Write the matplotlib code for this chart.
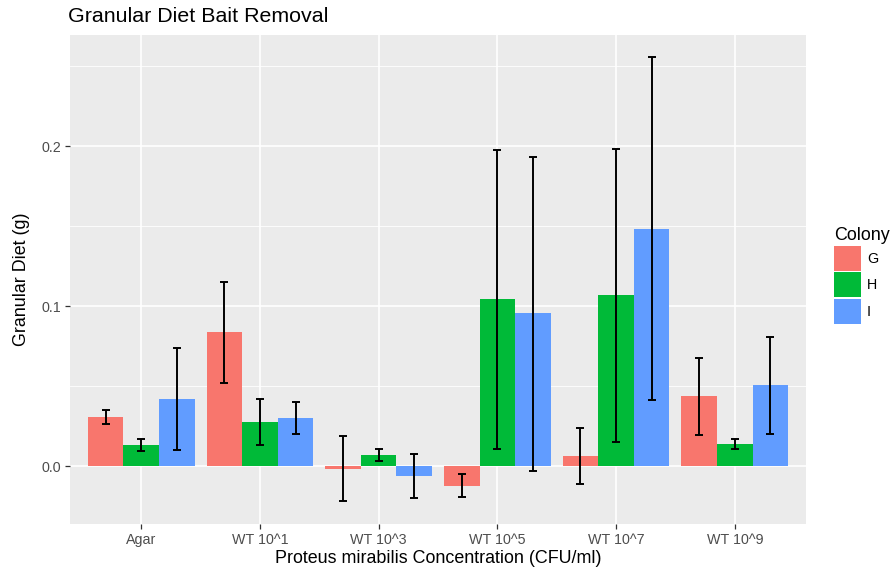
import matplotlib
matplotlib.use("Agg")
import matplotlib.pyplot as plt
from matplotlib.patches import Patch
from matplotlib.ticker import MultipleLocator
import numpy as np

plt.rcParams['font.family'] = ['Liberation Sans', 'DejaVu Sans']

categories = ["Agar", "WT 10^1", "WT 10^3", "WT 10^5", "WT 10^7", "WT 10^9"]
colonies = ["G", "H", "I"]
colors = ["#F8766D", "#00BA38", "#619CFF"]

mean_G = [0.0306, 0.0838, -0.0017, -0.0123, 0.0063, 0.0436]
mean_H = [0.0131, 0.0273, 0.0069, 0.1044, 0.1067, 0.0136]
mean_I = [0.0419, 0.0300, -0.0061, 0.0954, 0.1480, 0.0504]

lo_G = [0.0264, 0.0519, -0.0219, -0.0194, -0.0113, 0.0194]
hi_G = [0.0350, 0.1150, 0.0189, -0.0050, 0.0236, 0.0675]
lo_H = [0.0094, 0.0129, 0.0031, 0.0104, 0.0150, 0.0106]
hi_H = [0.0171, 0.0419, 0.0106, 0.1977, 0.1980, 0.0167]
lo_I = [0.0102, 0.0200, -0.0198, -0.0029, 0.0410, 0.0202]
hi_I = [0.0736, 0.0400, 0.0077, 0.1931, 0.2554, 0.0808]

means = [mean_G, mean_H, mean_I]
los = [lo_G, lo_H, lo_I]
his = [hi_G, hi_H, hi_I]

fig = plt.figure(figsize=(8.93, 5.71), dpi=100)
ax = fig.add_axes([70/893, 1-524/571, (806-70)/893, (524-35)/571])
ax.set_facecolor("#EBEBEB")
for s in ax.spines.values():
    s.set_visible(False)

x = np.arange(1, len(categories)+1)
bw = 0.3
for i, (m, lo, hi, c) in enumerate(zip(means, los, his, colors)):
    pos = x + (i-1)*bw
    ax.bar(pos, m, width=bw, color=c, zorder=3)
    m_arr = np.array(m); lo_arr = np.array(lo); hi_arr = np.array(hi)
    ax.errorbar(pos, m_arr, yerr=[m_arr-lo_arr, hi_arr-m_arr], fmt="none",
                ecolor="black", elinewidth=1.4, capsize=3.2, capthick=1.4, zorder=4)

ax.set_xlim(0.4, 6.6)
ax.set_ylim(-0.03625, 0.2694)
ax.set_xticks(x)
ax.set_xticklabels(categories)
ax.yaxis.set_major_locator(MultipleLocator(0.1))
ax.yaxis.set_minor_locator(MultipleLocator(0.05))
ax.set_yticks([0.0, 0.1, 0.2])
ax.set_yticklabels(["0.0", "0.1", "0.2"])
ax.grid(True, which="major", color="white", linewidth=1.2, zorder=0)
ax.grid(True, which="minor", axis="y", color="white", linewidth=0.6, zorder=0)
ax.set_axisbelow(True)
ax.tick_params(axis="both", which="major", length=3.3, width=0.9, color="#333333",
               labelcolor="#4D4D4D", labelsize=10.3, pad=3)
ax.tick_params(axis="both", which="minor", length=0)

ax.set_xlabel("Proteus mirabilis Concentration (CFU/ml)", fontsize=12.9, labelpad=2)
ax.set_ylabel("Granular Diet (g)", fontsize=12.9, labelpad=8)
fig.text(68/893, 1-17/571, "Granular Diet Bait Removal", fontsize=15.4, va="center", ha="left")

handles = [Patch(facecolor=c, edgecolor="none") for c in colors]
leg = fig.legend(handles, colonies, title="Colony", loc="upper left",
                 bbox_to_anchor=(832/893, 1-225/571), frameon=False,
                 fontsize=10.3, title_fontsize=12.9, handlelength=1.85, handleheight=2.3,
                 labelspacing=0.12, handletextpad=0.45, borderaxespad=0, borderpad=0.15)
leg._legend_box.align = "left"

fig.savefig("out.png", dpi=100)
